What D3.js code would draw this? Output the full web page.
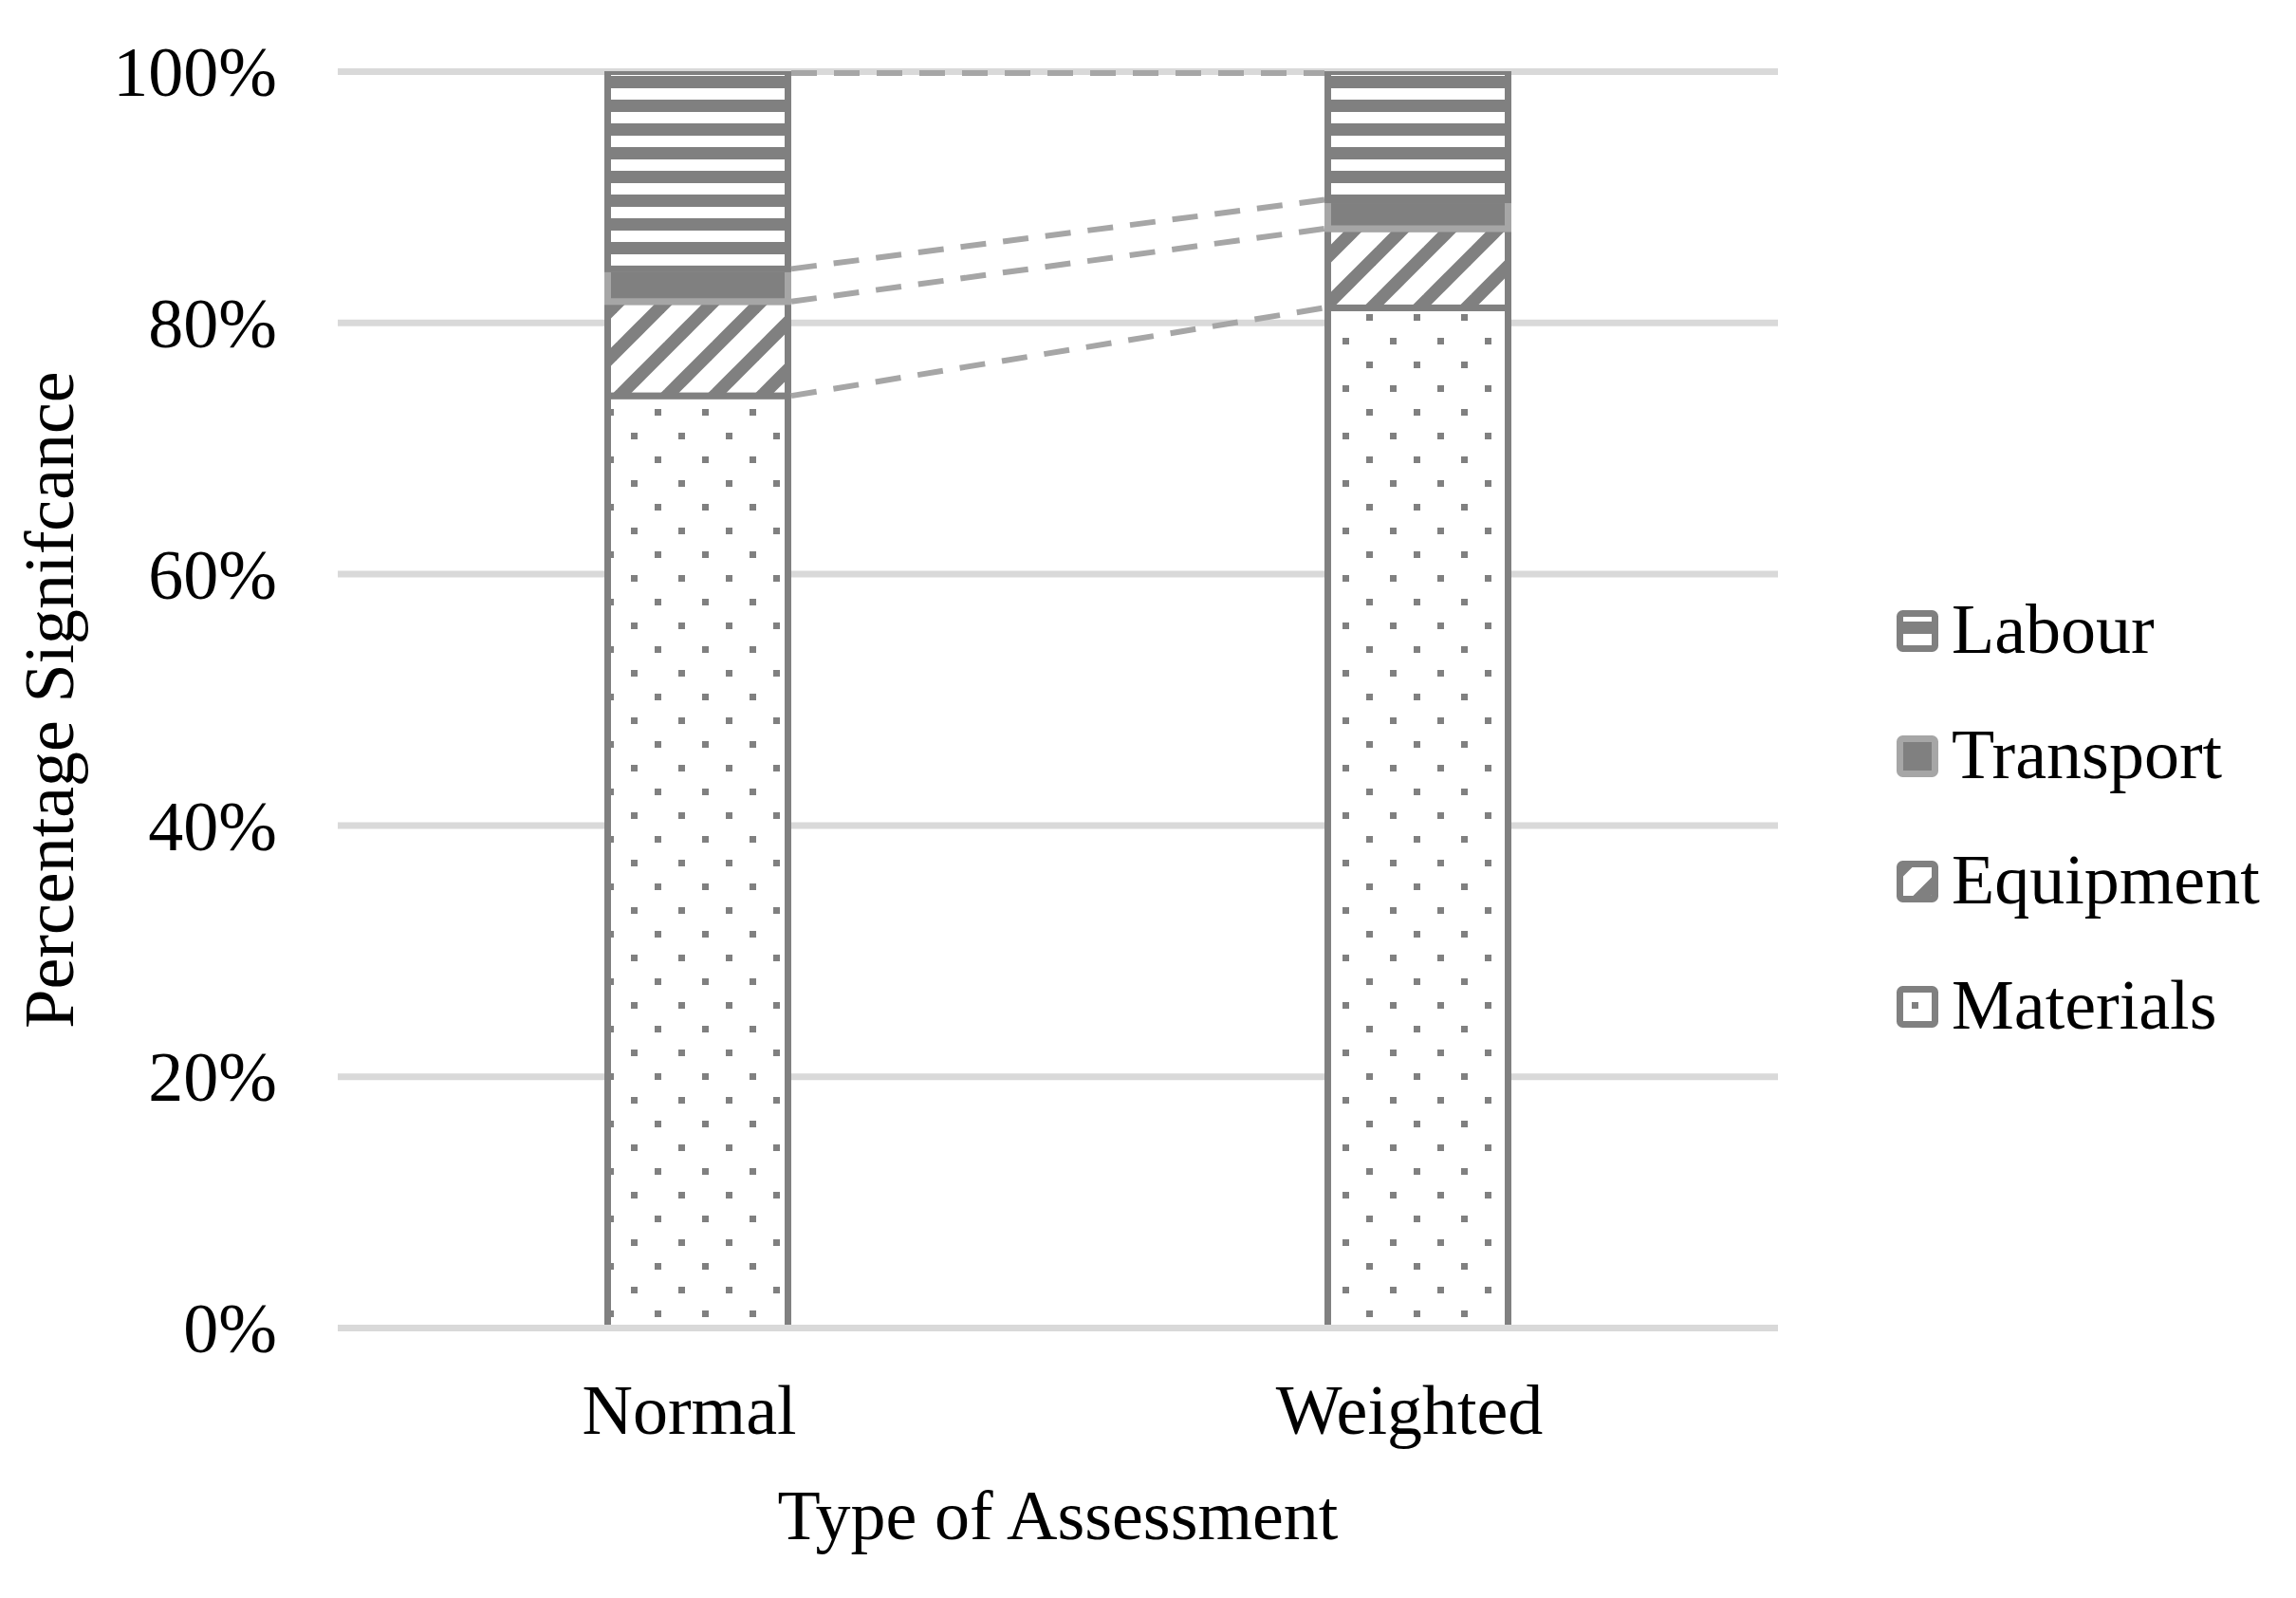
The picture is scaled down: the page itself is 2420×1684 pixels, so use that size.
<!DOCTYPE html>
<html><head><meta charset="utf-8">
<script src="https://cdn.jsdelivr.net/npm/d3@7"></script>
<style>body{margin:0;background:#fff}svg{display:block}</style>
</head><body><svg id="c" width="2420" height="1684"></svg>
<script>
const categories = ["Normal", "Weighted"];
const seriesNames = ["Materials", "Equipment", "Transport", "Labour"];
const materials = [0.742, 0.812];
const equipment = [0.075, 0.063];
const transport = [0.026, 0.023];
const labour = [0.157, 0.102];
const yTicks = [0, 0.2, 0.4, 0.6, 0.8, 1.0];
const legendOrder = ["Labour", "Transport", "Equipment", "Materials"];

const FONT = "'Liberation Serif','Times New Roman',serif";
const FS = 74;
const dark = "#808080", light = "#a6a6a6", grid = "#d9d9d9";

const svg = d3.select("#c");
svg.append("rect").attr("width", 2420).attr("height", 1684).attr("fill", "#fff");

const rows = categories.map((c, i) => ({
  cat: c, Materials: materials[i], Equipment: equipment[i], Transport: transport[i], Labour: labour[i]
}));
const stack = d3.stack().keys(seriesNames)(rows);

const plot = {left: 356, right: 1874, top: 75.5, bottom: 1399.5};
const x = d3.scaleBand().domain(categories).range([plot.left, plot.right]).paddingInner(0).paddingOuter(0);
const y = d3.scaleLinear().domain([0, 1]).range([plot.bottom, plot.top]);
const barW = 190;

// patterns
const defs = svg.append("defs");
const pl = defs.append("pattern").attr("id", "p-labour").attr("patternUnits", "userSpaceOnUse")
  .attr("x", 0).attr("y", 18).attr("width", 25).attr("height", 25);
pl.append("rect").attr("width", 25).attr("height", 25).attr("fill", dark);
pl.append("rect").attr("width", 25).attr("height", 12).attr("fill", "#fff");

const pe = defs.append("pattern").attr("id", "p-equip").attr("patternUnits", "userSpaceOnUse")
  .attr("x", 0).attr("y", 0).attr("width", 50).attr("height", 50);
pe.append("rect").attr("width", 50).attr("height", 50).attr("fill", "#fff");
[-30, 20, 70, 120].forEach(k => {
  pe.append("path").attr("d", `M${k + 20},-20 L-20,${k + 20}`)
    .attr("stroke", dark).attr("stroke-width", 13.5).attr("fill", "none");
});

const pd = defs.append("pattern").attr("id", "p-dots").attr("patternUnits", "userSpaceOnUse")
  .attr("x", 0).attr("y", 0).attr("width", 50).attr("height", 50);
pd.append("rect").attr("width", 50).attr("height", 50).attr("fill", "#fff");
pd.append("rect").attr("x", 15).attr("y", 6).attr("width", 7).attr("height", 7).attr("fill", dark);
pd.append("rect").attr("x", 40).attr("y", 31).attr("width", 7).attr("height", 7).attr("fill", dark);

defs.append("clipPath").attr("id", "plotclip").append("rect")
  .attr("x", plot.left).attr("y", 75).attr("width", plot.right - plot.left).attr("height", 1396 - 75);

const fills = {Materials: "url(#p-dots)", Equipment: "url(#p-equip)", Transport: dark, Labour: "url(#p-labour)"};
const strokes = {Materials: dark, Equipment: dark, Transport: light, Labour: dark};

// gridlines
svg.append("g").selectAll("line").data(yTicks).join("line")
  .attr("x1", plot.left).attr("x2", plot.right)
  .attr("y1", d => y(d)).attr("y2", d => y(d))
  .attr("stroke", grid).attr("stroke-width", 7);

// y axis labels
const ya = svg.append("g").attr("transform", `translate(${plot.left},0)`)
  .call(d3.axisLeft(y).tickValues(yTicks).tickFormat(d3.format(".0%")).tickSize(0).tickPadding(64));
ya.select(".domain").remove();
ya.selectAll("text").attr("font-family", FONT).attr("font-size", FS).attr("fill", "#000").attr("dy", "0.34em");

// x axis labels
const xa = svg.append("g").attr("transform", `translate(0,${plot.bottom})`)
  .call(d3.axisBottom(x).tickSize(0).tickPadding(59));
xa.select(".domain").remove();
xa.selectAll("text").attr("font-family", FONT).attr("font-size", FS).attr("fill", "#000").attr("dx", -9);

// bars
const bars = svg.append("g").attr("clip-path", "url(#plotclip)");
stack.forEach(s => {
  bars.append("g").selectAll("rect").data(s).join("rect")
    .attr("x", d => x(d.data.cat) + x.bandwidth() / 2 - barW / 2)
    .attr("width", barW)
    .attr("y", d => y(d[1]))
    .attr("height", d => y(d[0]) - y(d[1]))
    .attr("fill", fills[s.key])
    .attr("stroke", strokes[s.key])
    .attr("stroke-width", 7);
});

// series lines
const x1 = x(categories[0]) + x.bandwidth() / 2 + barW / 2 + 3.5;
const x2 = x(categories[1]) + x.bandwidth() / 2 - barW / 2 - 3.5;
svg.append("g").selectAll("line").data(stack).join("line")
  .attr("x1", x1).attr("x2", x2)
  .attr("y1", s => y(s[0][1]) + (s.key === "Labour" ? 1.5 : 0))
  .attr("y2", s => y(s[1][1]) + (s.key === "Labour" ? 1.5 : 0))
  .attr("stroke", light).attr("stroke-width", 6).attr("stroke-dasharray", "27,18");

// axis titles
svg.append("text").attr("x", (plot.left + plot.right) / 2).attr("y", 1622)
  .attr("text-anchor", "middle").attr("font-family", FONT).attr("font-size", FS).text("Type of Assessment");
svg.append("text").attr("transform", `translate(77,${(plot.top + plot.bottom) / 2}) rotate(-90)`)
  .attr("text-anchor", "middle").attr("font-family", FONT).attr("font-size", FS).text("Percentage Signifcance");

// legend
const lg = svg.append("g");
legendOrder.forEach((k, i) => {
  const top = 643 + i * 132;
  lg.append("rect").attr("x", 2002.5).attr("y", top + 3.5).attr("width", 37).attr("height", 37)
    .attr("rx", 3).attr("fill", fills[k]).attr("stroke", strokes[k]).attr("stroke-width", 7);
  lg.append("text").attr("x", 2057).attr("y", top + 45).attr("font-family", FONT).attr("font-size", FS)
    .attr("fill", "#000").text(k);
});
</script></body></html>
